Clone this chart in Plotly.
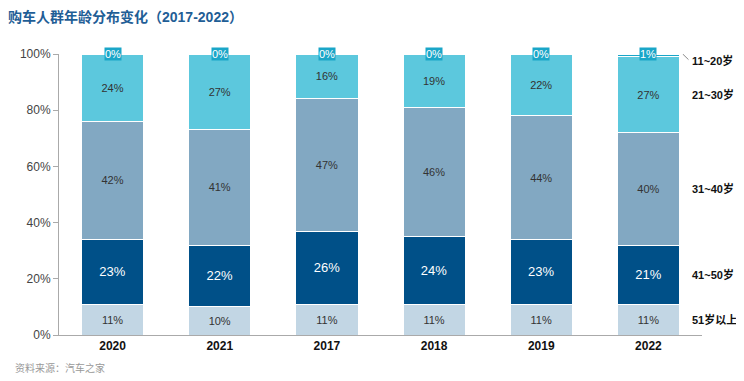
import plotly.graph_objects as go

years = ["2020", "2021", "2017", "2018", "2019", "2022"]
series_names = ["51岁以上", "41~50岁", "31~40岁", "21~30岁", "11~20岁"]
v51 = [11, 10, 11, 11, 11, 11]
v41 = [23, 22, 26, 24, 23, 21]
v31 = [42, 41, 47, 46, 44, 40]
v21 = [24, 27, 16, 19, 22, 27]
v11 = [0, 0, 0, 0, 0, 1]
y_ticks = [0, 20, 40, 60, 80, 100]
title_text = "购车人群年龄分布变化（2017-2022）"
source_text = "资料来源：汽车之家"

values = [v51, v41, v31, v21, v11]
colors = ["#C2D6E4", "#005088", "#82A8C2", "#5CC8DD", "#1AA6C8"]
text_colors = ["#333333", "#FFFFFF", "#333333", "#333333", "#FFFFFF"]
text_sizes = [11, 13, 11, 11, 11]

FONT = "Liberation Sans, Arial, Noto Sans CJK SC, sans-serif"

fig = go.Figure()
for i, (name, vals) in enumerate(zip(series_names, values)):
    show_text = i < 4
    fig.add_trace(go.Bar(
        x=years, y=vals, name=name,
        marker=dict(color=colors[i], line=dict(color="white", width=1)),
        width=0.58,
        text=[f"{v}%" for v in vals] if show_text else None,
        textposition="inside" if show_text else "none",
        insidetextanchor="middle",
        textangle=0,
        textfont=dict(color=text_colors[i], size=text_sizes[i], family=FONT),
        hoverinfo="skip",
    ))

# top small-share labels in boxes
annotations = []
for j, yr in enumerate(years):
    top = sum(v[j] for v in values[:4]) + v11[j]
    annotations.append(dict(
        x=j, y=top, xref="x", yref="y", text=f"{v11[j]}%", showarrow=False,
        font=dict(color="white", size=11, family=FONT),
        bgcolor="#1AA6C8", borderpad=0, yanchor="middle",
    ))

# right-side series labels at 2022 segment midpoints
last = len(years) - 1
cum = 0
mids = []
for vals in values:
    mids.append(cum + vals[last] / 2)
    cum += vals[last]
mids[4] = mids[4] - 1.8
for name, m in zip(series_names, mids):
    annotations.append(dict(
        x=0.982, y=m, xref="paper", yref="y", text=name,
        showarrow=False, xanchor="left", yanchor="middle",
        font=dict(color="#111111", size=11, family=FONT, weight="bold"),
    ))

annotations.append(dict(
    x=-0.071, y=-0.117, xref="paper", yref="paper", text=source_text,
    showarrow=False, xanchor="left", yanchor="middle",
    font=dict(color="#999999", size=10, family=FONT),
))

fig.update_layout(
    barmode="stack",
    width=736, height=373,
    margin=dict(l=46, r=42, t=46, b=46),
    paper_bgcolor="white", plot_bgcolor="white",
    showlegend=False,
    title=dict(text=title_text, x=0.0, xref="container", xanchor="left",
               y=0.976, yref="container", yanchor="middle",
               font=dict(color="#1F5E96", size=14, family=FONT, weight="bold")),
    annotations=annotations,
    shapes=[dict(type="line", xref="paper", yref="y", x0=0.97, x1=0.979, y0=100, y1=98.0,
                 line=dict(color="#888888", width=1))],
    xaxis=dict(type="category", categoryorder="array", categoryarray=years,
               showline=True, linecolor="#AAAAAA", linewidth=1, ticks="",
               tickfont=dict(color="#111111", size=12, family=FONT, weight="bold"),
               showgrid=False),
    yaxis=dict(range=[0, 100], tickvals=y_ticks, ticktext=[f"{t}%" for t in y_ticks],
               showline=True, linecolor="#AAAAAA", linewidth=1, ticks="outside",
               ticklen=5, tickcolor="#AAAAAA", showgrid=False, zeroline=False,
               tickfont=dict(color="#444444", size=12, family=FONT)),
)

fig.write_html("out.html")
